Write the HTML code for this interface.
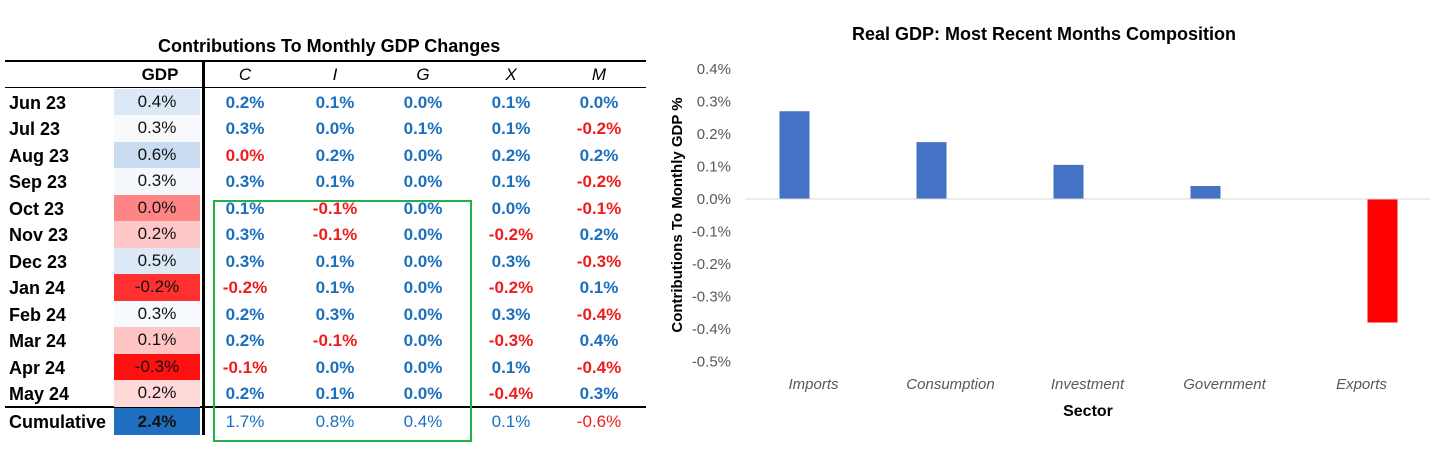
<!DOCTYPE html>
<html><head><meta charset="utf-8"><style>
body{margin:0;width:1456px;height:452px;background:#fff;position:relative;overflow:hidden;font-family:"Liberation Sans",sans-serif}
.t{position:absolute;white-space:nowrap}
.c{position:absolute;width:88px;text-align:center;font-size:17px;line-height:26px}
.b{font-weight:bold}
.pos{color:#1a6fbf;font-weight:bold}
.neg{color:#ee1c1c;font-weight:bold}
</style></head><body>
<div id="table"></div>
<svg id="chart" width="1456" height="452" style="position:absolute;left:0;top:0;pointer-events:none"></svg>
<script>
const months=["Jun 23","Jul 23","Aug 23","Sep 23","Oct 23","Nov 23","Dec 23","Jan 24","Feb 24","Mar 24","Apr 24","May 24"];
const gdpVals=[0.4,0.3,0.6,0.3,0.0,0.2,0.5,-0.2,0.3,0.1,-0.3,0.2];
const gdpBg=["#dce8f5","#f7f9fd","#c9dcf0","#f5f8fc","#ff8585","#ffc8c8","#dde9f6","#ff3030","#f6f9fd","#ffc5c5","#ff1010","#ffd8d8"];
const cVals=[0.2,0.3,0.0,0.3,0.1,0.3,0.3,-0.2,0.2,0.2,-0.1,0.2];
const iVals=[0.1,0.0,0.2,0.1,-0.1,-0.1,0.1,0.1,0.3,-0.1,0.0,0.1];
const gVals=[0.0,0.1,0.0,0.0,0.0,0.0,0.0,0.0,0.0,0.0,0.0,0.0];
const xVals=[0.1,0.1,0.2,0.1,0.0,-0.2,0.3,-0.2,0.3,-0.3,0.1,-0.4];
const mVals=[0.0,-0.2,0.2,-0.2,-0.1,0.2,-0.3,0.1,-0.4,0.4,-0.4,0.3];
const cumVals=[2.4,1.7,0.8,0.4,0.1,-0.6];
const colHeads=["C","I","G","X","M"];
const colX=[245,335,423,511,599];

const T=document.getElementById('table');
let h='';
h+='<div class="t b" style="left:158px;top:36px;font-size:18px">Contributions To Monthly GDP Changes</div>';
h+='<div style="position:absolute;left:5px;top:60px;width:641px;height:2px;background:#000"></div>';
h+='<div style="position:absolute;left:5px;top:87px;width:641px;height:1px;background:#000"></div>';
h+='<div style="position:absolute;left:5px;top:406px;width:641px;height:2px;background:#000"></div>';
h+='<div style="position:absolute;left:202px;top:61px;width:3px;height:374px;background:#000"></div>';
h+='<div style="position:absolute;left:213px;top:200px;width:255px;height:238px;border:2px solid #22b04b"></div>';
h+='<div class="c b" style="left:116px;top:62px">GDP</div>';
colHeads.forEach((n,j)=>{h+='<div class="c" style="left:'+(colX[j]-44)+'px;top:62px;font-style:italic">'+n+'</div>';});
const fmt=v=>v.toFixed(1)+'%';
const cols=[cVals,iVals,gVals,xVals,mVals];
months.forEach((m,i)=>{
  const top=88.5+i*26.5;
  h+='<div class="t b" style="left:9px;top:'+(top+1)+'px;font-size:18px;line-height:26px">'+m+'</div>';
  h+='<div class="c" style="left:114px;top:'+top+'px;width:86px;height:26.5px;background:'+gdpBg[i]+';color:#111">'+fmt(gdpVals[i])+'</div>';
  cols.forEach((arr,j)=>{
    const v=arr[i];
    const neg=v<0||(j===0&&i===2);
    h+='<div class="c '+(neg?'neg':'pos')+'" style="left:'+(colX[j]-44)+'px;top:'+(top+1)+'px">'+fmt(v)+'</div>';
  });
});
h+='<div class="t b" style="left:9px;top:409px;font-size:18px;line-height:26px">Cumulative</div>';
h+='<div class="c b" style="left:114px;top:408px;width:86px;height:27px;line-height:27px;background:#1f6fc0;color:#111">'+fmt(cumVals[0])+'</div>';
for(let j=0;j<5;j++){const v=cumVals[j+1];
  h+='<div class="c" style="left:'+(colX[j]-44)+'px;top:409px;color:'+(v<0?'#ee1c1c':'#1a6fbf')+'">'+fmt(v)+'</div>';}
T.innerHTML=h;

// Chart
const sectors=["Imports","Consumption","Investment","Government","Exports"];
const sectorVals=[0.27,0.175,0.105,0.04,-0.38];
const yTicks=[0.4,0.3,0.2,0.1,0.0,-0.1,-0.2,-0.3,-0.4,-0.5];
const svg=document.getElementById('chart');
const NS='http://www.w3.org/2000/svg';
const yS=v=>199-v*325;
const x0=745,catW=137;
const xS=i=>x0+catW*(i+0.5);
function el(t,a,txt){const e=document.createElementNS(NS,t);for(const k in a)e.setAttribute(k,a[k]);if(txt!==undefined)e.textContent=txt;svg.appendChild(e);return e;}
let e=el('text',{x:1044,y:40,'text-anchor':'middle','font-size':18,'font-weight':'bold','font-family':'Liberation Sans'},'Real GDP: Most Recent Months Composition');


yTicks.forEach(v=>{
  const t=el('text',{x:731,y:yS(v)+5,'text-anchor':'end','font-size':15,fill:'#595959','font-family':'Liberation Sans'},v.toFixed(1)+'%');
  
  
});
sectorVals.forEach((v,i)=>{
  const cx=xS(i)+(v>=0?-19:21);
  const r=el('rect',{x:cx-15,y:Math.min(yS(v),yS(0)),width:30,height:Math.abs(yS(v)-yS(0)),fill:v>=0?'#4472c4':'#ff0000'});
  
  
  const t=el('text',{x:xS(i),y:389,'text-anchor':'middle','font-size':15,'font-style':'italic',fill:'#595959','font-family':'Liberation Sans'},sectors[i]);
  
  
});
e=el('line',{x1:x0,x2:x0+catW*5,y1:yS(0),y2:yS(0),stroke:'#d9d9d9','stroke-width':1});


e=el('text',{x:1088,y:416,'text-anchor':'middle','font-size':16,'font-weight':'bold','font-family':'Liberation Sans'},'Sector');


e=el('text',{x:0,y:0,'text-anchor':'middle','font-size':15,'font-weight':'bold','font-family':'Liberation Sans',transform:'translate(682,215) rotate(-90)'},'Contributions To Monthly GDP %');


</script>
</body></html>
